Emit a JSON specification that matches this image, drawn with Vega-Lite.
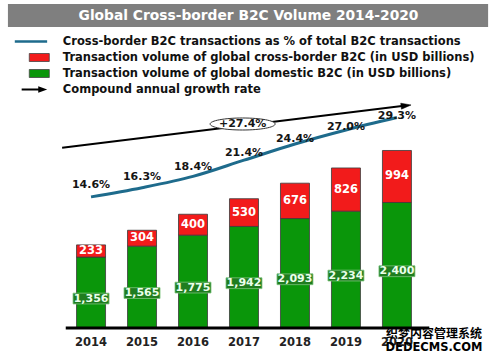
{
  "$schema": "https://vega.github.io/schema/vega-lite/v6.json",
  "width": 498,
  "height": 364,
  "autosize": "none",
  "padding": 0,
  "background": "white",
  "config": {"view": {"stroke": null}, "font": "DejaVu Sans"},
  "datasets": {
    "volumes": [
      {"year": 2014, "type": "Domestic", "value": 1356},
      {"year": 2014, "type": "Cross-border", "value": 233},
      {"year": 2015, "type": "Domestic", "value": 1565},
      {"year": 2015, "type": "Cross-border", "value": 304},
      {"year": 2016, "type": "Domestic", "value": 1775},
      {"year": 2016, "type": "Cross-border", "value": 400},
      {"year": 2017, "type": "Domestic", "value": 1942},
      {"year": 2017, "type": "Cross-border", "value": 530},
      {"year": 2018, "type": "Domestic", "value": 2093},
      {"year": 2018, "type": "Cross-border", "value": 676},
      {"year": 2019, "type": "Domestic", "value": 2234},
      {"year": 2019, "type": "Cross-border", "value": 826},
      {"year": 2020, "type": "Domestic", "value": 2400},
      {"year": 2020, "type": "Cross-border", "value": 994}
    ],
    "share": [
      {"year": 2014, "share": 0.146},
      {"year": 2015, "share": 0.163},
      {"year": 2016, "share": 0.184},
      {"year": 2017, "share": 0.214},
      {"year": 2018, "share": 0.244},
      {"year": 2019, "share": 0.270},
      {"year": 2020, "share": 0.293}
    ],
    "meta": [
      {"title": "Global Cross-border B2C Volume 2014-2020", "cagr": 0.274, "wm1": "织梦内容管理系统", "wm2": "DEDECMS.COM"}
    ],
    "legend": [
      {"label": "Cross-border B2C transactions as % of total B2C transactions", "kind": "line"},
      {"label": "Transaction volume of global cross-border B2C (in USD billions)", "kind": "box", "type": "Cross-border"},
      {"label": "Transaction volume of global domestic B2C (in USD billions)", "kind": "box", "type": "Domestic"},
      {"label": "Compound annual growth rate", "kind": "arrow"}
    ]
  },
  "resolve": {"scale": {"y": "independent"}},
  "layer": [
    {
      "layer": [
        {
          "data": {"name": "meta"},
          "mark": {"type": "rect", "fill": "#7f7f7f"},
          "encoding": {
            "x": {"datum": 2012.370, "type": "quantitative", "scale": {"domain": [2012.3125, 2021.884], "nice": false, "zero": false}, "axis": null},
            "x2": {"datum": 2021.788},
            "y": {"datum": 6195, "type": "quantitative", "scale": {"domain": [-688.3, 6271.5], "nice": false, "zero": false}, "axis": null},
            "y2": {"datum": 5755}
          }
        },
        {
          "data": {"name": "meta"},
          "mark": {"type": "text", "color": "white", "font": "DejaVu Sans", "fontWeight": "bold", "fontSize": 13.8, "align": "center", "baseline": "middle"},
          "encoding": {
            "x": {"datum": 2017.0886, "type": "quantitative", "scale": {"domain": [2012.3125, 2021.884], "nice": false, "zero": false}, "axis": null},
            "y": {"datum": 5975, "type": "quantitative", "scale": {"domain": [-688.3, 6271.5], "nice": false, "zero": false}, "axis": null},
            "text": {"field": "title"}
          }
        },
        {
          "data": {"name": "volumes"},
          "mark": {"type": "bar", "width": 29, "stroke": "#3a3a3a", "strokeWidth": 0.8},
          "encoding": {
            "x": {"field": "year", "type": "quantitative", "scale": {"domain": [2012.3125, 2021.884], "nice": false, "zero": false}, "axis": null},
            "y": {"field": "value", "type": "quantitative", "stack": "zero", "scale": {"domain": [-688.3, 6271.5], "nice": false, "zero": false}, "axis": null},
            "color": {"field": "type", "type": "nominal", "scale": {"domain": ["Cross-border", "Domestic"], "range": ["#f21b1b", "#0a960a"]}, "legend": null},
            "order": {"field": "type", "sort": "descending"}
          }
        },
        {
          "data": {"name": "volumes"},
          "mark": {"type": "text", "color": "white", "font": "DejaVu Sans", "fontWeight": "bold", "fontSize": 11.5, "align": "center", "baseline": "middle"},
          "encoding": {
            "x": {"field": "year", "type": "quantitative", "scale": {"domain": [2012.3125, 2021.884], "nice": false, "zero": false}, "axis": null},
            "y": {"field": "value", "type": "quantitative", "stack": "zero", "bandPosition": 0.5, "scale": {"domain": [-688.3, 6271.5], "nice": false, "zero": false}, "axis": null},
            "detail": {"field": "type"},
            "order": {"field": "type", "sort": "descending"},
            "text": {"condition": {"test": "datum.type === 'Cross-border'", "field": "value", "type": "quantitative", "format": "d"}, "value": ""}
          }
        },
        {
          "data": {"name": "volumes"},
          "mark": {"type": "point", "shape": "M-1,-0.3H1V0.3H-1Z", "size": 1296, "filled": true, "fill": "#1f7d1f", "stroke": "#7cc47c", "strokeWidth": 0.8, "yOffset": 6},
          "encoding": {
            "x": {"field": "year", "type": "quantitative", "scale": {"domain": [2012.3125, 2021.884], "nice": false, "zero": false}, "axis": null},
            "y": {"field": "value", "type": "quantitative", "stack": "zero", "bandPosition": 0.5, "scale": {"domain": [-688.3, 6271.5], "nice": false, "zero": false}, "axis": null},
            "detail": {"field": "type"},
            "order": {"field": "type", "sort": "descending"},
            "opacity": {"condition": {"test": "datum.type === 'Domestic'", "value": 1}, "value": 0}
          }
        },
        {
          "data": {"name": "volumes"},
          "mark": {"type": "text", "color": "#eaffea", "font": "DejaVu Sans", "fontWeight": "bold", "fontSize": 11, "align": "center", "baseline": "middle", "yOffset": 6},
          "encoding": {
            "x": {"field": "year", "type": "quantitative", "scale": {"domain": [2012.3125, 2021.884], "nice": false, "zero": false}, "axis": null},
            "y": {"field": "value", "type": "quantitative", "stack": "zero", "bandPosition": 0.5, "scale": {"domain": [-688.3, 6271.5], "nice": false, "zero": false}, "axis": null},
            "detail": {"field": "type"},
            "order": {"field": "type", "sort": "descending"},
            "text": {"condition": {"test": "datum.type === 'Domestic'", "field": "value", "type": "quantitative", "format": ",d"}, "value": ""}
          }
        },
        {
          "data": {"name": "meta"},
          "mark": {"type": "rule", "color": "black", "strokeWidth": 3},
          "encoding": {
            "x": {"datum": 2013.5041, "type": "quantitative", "scale": {"domain": [2012.3125, 2021.884], "nice": false, "zero": false}, "axis": null},
            "x2": {"datum": 2020.6346},
            "y": {"datum": 0, "type": "quantitative", "scale": {"domain": [-688.3, 6271.5], "nice": false, "zero": false}, "axis": null}
          }
        },
        {
          "data": {"name": "share"},
          "mark": {"type": "text", "color": "#222222", "font": "DejaVu Sans", "fontWeight": "bold", "fontSize": 11.5, "align": "center", "baseline": "middle"},
          "encoding": {
            "x": {"field": "year", "type": "quantitative", "scale": {"domain": [2012.3125, 2021.884], "nice": false, "zero": false}, "axis": null},
            "y": {"datum": -286.8, "type": "quantitative", "scale": {"domain": [-688.3, 6271.5], "nice": false, "zero": false}, "axis": null},
            "text": {"field": "year", "type": "quantitative", "format": "d"}
          }
        },
        {
          "data": {"name": "meta"},
          "mark": {"type": "text", "color": "black", "font": "Noto Sans CJK SC", "fontWeight": "bold", "fontSize": 12, "align": "center", "baseline": "middle"},
          "encoding": {
            "x": {"datum": 2020.727, "type": "quantitative", "scale": {"domain": [2012.3125, 2021.884], "nice": false, "zero": false}, "axis": null},
            "y": {"datum": -120.5, "type": "quantitative", "scale": {"domain": [-688.3, 6271.5], "nice": false, "zero": false}, "axis": null},
            "text": {"field": "wm1"}
          }
        },
        {
          "data": {"name": "meta"},
          "mark": {"type": "text", "color": "black", "font": "DejaVu Sans", "fontWeight": "bold", "fontSize": 11.5, "align": "center", "baseline": "middle"},
          "encoding": {
            "x": {"datum": 2020.727, "type": "quantitative", "scale": {"domain": [2012.3125, 2021.884], "nice": false, "zero": false}, "axis": null},
            "y": {"datum": -376.7, "type": "quantitative", "scale": {"domain": [-688.3, 6271.5], "nice": false, "zero": false}, "axis": null},
            "text": {"field": "wm2"}
          }
        }
      ]
    },
    {
      "data": {"name": "share"},
      "mark": {"type": "line", "interpolate": "monotone", "color": "#1e6b8c", "strokeWidth": 3},
      "encoding": {
        "x": {"field": "year", "type": "quantitative", "scale": {"domain": [2012.3125, 2021.884], "nice": false, "zero": false}, "axis": null},
        "y": {"field": "share", "type": "quantitative", "scale": {"domain": [-0.1634, 0.5106], "nice": false, "zero": false}, "axis": null}
      }
    },
    {
      "data": {"name": "share"},
      "mark": {"type": "text", "color": "#151515", "font": "DejaVu Sans", "fontWeight": "bold", "fontSize": 11, "align": "center", "baseline": "middle"},
      "encoding": {
        "x": {"field": "year", "type": "quantitative", "scale": {"domain": [2012.3125, 2021.884], "nice": false, "zero": false}, "axis": null},
        "y": {"field": "share", "type": "quantitative", "scale": {"domain": [-0.2337, 0.5391], "nice": false, "zero": false}, "axis": null},
        "text": {"field": "share", "type": "quantitative", "format": ".1%"}
      }
    },
    {
      "layer": [
        {
          "data": {"name": "meta"},
          "mark": {"type": "rule", "color": "black", "strokeWidth": 2},
          "encoding": {
            "x": {"datum": 2013.433, "type": "quantitative", "scale": {"domain": [2012.3125, 2021.884], "nice": false, "zero": false}, "axis": null},
            "x2": {"datum": 2020.179},
            "y": {"datum": 0.2371, "type": "quantitative", "scale": {"domain": [-0.1634, 0.5106], "nice": false, "zero": false}, "axis": null},
            "y2": {"datum": 0.3151}
          }
        },
        {
          "data": {"name": "meta"},
          "mark": {"type": "point", "shape": "M1,0L-1,-0.6L-1,0.6Z", "size": 100, "angle": -6.84, "filled": true, "fill": "black", "stroke": "black", "strokeWidth": 0.5, "opacity": 1},
          "encoding": {
            "x": {"datum": 2020.179, "type": "quantitative", "scale": {"domain": [2012.3125, 2021.884], "nice": false, "zero": false}, "axis": null},
            "y": {"datum": 0.3151, "type": "quantitative", "scale": {"domain": [-0.1634, 0.5106], "nice": false, "zero": false}, "axis": null}
          }
        },
        {
          "data": {"name": "meta"},
          "mark": {"type": "point", "shape": "M-1,0C-1,-0.102,-0.552,-0.185,0,-0.185C0.552,-0.185,1,-0.102,1,0C1,0.102,0.552,0.185,0,0.185C-0.552,0.185,-1,0.102,-1,0Z", "size": 4225, "filled": true, "fill": "white", "stroke": "#333333", "strokeWidth": 1, "opacity": 1},
          "encoding": {
            "x": {"datum": 2016.973, "type": "quantitative", "scale": {"domain": [2012.3125, 2021.884], "nice": false, "zero": false}, "axis": null},
            "y": {"datum": 0.2810, "type": "quantitative", "scale": {"domain": [-0.1634, 0.5106], "nice": false, "zero": false}, "axis": null}
          }
        },
        {
          "data": {"name": "meta"},
          "mark": {"type": "text", "color": "#151515", "font": "DejaVu Sans", "fontWeight": "bold", "fontSize": 11, "align": "center", "baseline": "middle"},
          "encoding": {
            "x": {"datum": 2016.973, "type": "quantitative", "scale": {"domain": [2012.3125, 2021.884], "nice": false, "zero": false}, "axis": null},
            "y": {"datum": 0.2810, "type": "quantitative", "scale": {"domain": [-0.1634, 0.5106], "nice": false, "zero": false}, "axis": null},
            "text": {"field": "cagr", "type": "quantitative", "format": "+.1%"}
          }
        }
      ]
    },
    {
      "layer": [
        {
          "data": {"name": "legend"},
          "transform": [{"filter": "datum.kind === 'line'"}],
          "mark": {"type": "rule", "color": "#1e6b8c", "strokeWidth": 2.5},
          "encoding": {
            "x": {"datum": 2012.5047, "type": "quantitative", "scale": {"domain": [2012.3125, 2021.884], "nice": false, "zero": false}, "axis": null},
            "x2": {"datum": 2013.139},
            "y": {"field": "label", "type": "nominal", "scale": {"type": "point", "domain": ["Cross-border B2C transactions as % of total B2C transactions", "Transaction volume of global cross-border B2C (in USD billions)", "Transaction volume of global domestic B2C (in USD billions)", "Compound annual growth rate"], "range": [41.5, 89.5], "padding": 0}, "axis": null}
          }
        },
        {
          "data": {"name": "legend"},
          "transform": [{"filter": "datum.kind === 'box'"}],
          "mark": {"type": "point", "shape": "M-1,-0.4H1V0.4H-1Z", "size": 400, "filled": true, "stroke": "#444444", "strokeWidth": 0.8, "opacity": 1},
          "encoding": {
            "x": {"datum": 2012.985, "type": "quantitative", "scale": {"domain": [2012.3125, 2021.884], "nice": false, "zero": false}, "axis": null},
            "y": {"field": "label", "type": "nominal", "scale": {"type": "point", "domain": ["Cross-border B2C transactions as % of total B2C transactions", "Transaction volume of global cross-border B2C (in USD billions)", "Transaction volume of global domestic B2C (in USD billions)", "Compound annual growth rate"], "range": [41.5, 89.5], "padding": 0}, "axis": null},
            "color": {"field": "type", "type": "nominal", "scale": {"domain": ["Cross-border", "Domestic"], "range": ["#f21b1b", "#0a960a"]}, "legend": null}
          }
        },
        {
          "data": {"name": "legend"},
          "transform": [{"filter": "datum.kind === 'arrow'"}],
          "mark": {"type": "rule", "color": "black", "strokeWidth": 2},
          "encoding": {
            "x": {"datum": 2012.6392, "type": "quantitative", "scale": {"domain": [2012.3125, 2021.884], "nice": false, "zero": false}, "axis": null},
            "x2": {"datum": 2013.0236},
            "y": {"field": "label", "type": "nominal", "scale": {"type": "point", "domain": ["Cross-border B2C transactions as % of total B2C transactions", "Transaction volume of global cross-border B2C (in USD billions)", "Transaction volume of global domestic B2C (in USD billions)", "Compound annual growth rate"], "range": [41.5, 89.5], "padding": 0}, "axis": null}
          }
        },
        {
          "data": {"name": "legend"},
          "transform": [{"filter": "datum.kind === 'arrow'"}],
          "mark": {"type": "point", "shape": "M1,0L-1,-0.7L-1,0.7Z", "size": 81, "filled": true, "fill": "black", "opacity": 1},
          "encoding": {
            "x": {"datum": 2013.0525, "type": "quantitative", "scale": {"domain": [2012.3125, 2021.884], "nice": false, "zero": false}, "axis": null},
            "y": {"field": "label", "type": "nominal", "scale": {"type": "point", "domain": ["Cross-border B2C transactions as % of total B2C transactions", "Transaction volume of global cross-border B2C (in USD billions)", "Transaction volume of global domestic B2C (in USD billions)", "Compound annual growth rate"], "range": [41.5, 89.5], "padding": 0}, "axis": null}
          }
        },
        {
          "data": {"name": "legend"},
          "mark": {"type": "text", "color": "#111111", "font": "DejaVu Sans", "fontWeight": "bold", "fontSize": 11.5, "align": "left", "baseline": "middle"},
          "encoding": {
            "x": {"datum": 2013.4465, "type": "quantitative", "scale": {"domain": [2012.3125, 2021.884], "nice": false, "zero": false}, "axis": null},
            "y": {"field": "label", "type": "nominal", "scale": {"type": "point", "domain": ["Cross-border B2C transactions as % of total B2C transactions", "Transaction volume of global cross-border B2C (in USD billions)", "Transaction volume of global domestic B2C (in USD billions)", "Compound annual growth rate"], "range": [41.5, 89.5], "padding": 0}, "axis": null},
            "text": {"field": "label"}
          }
        }
      ]
    }
  ]
}
